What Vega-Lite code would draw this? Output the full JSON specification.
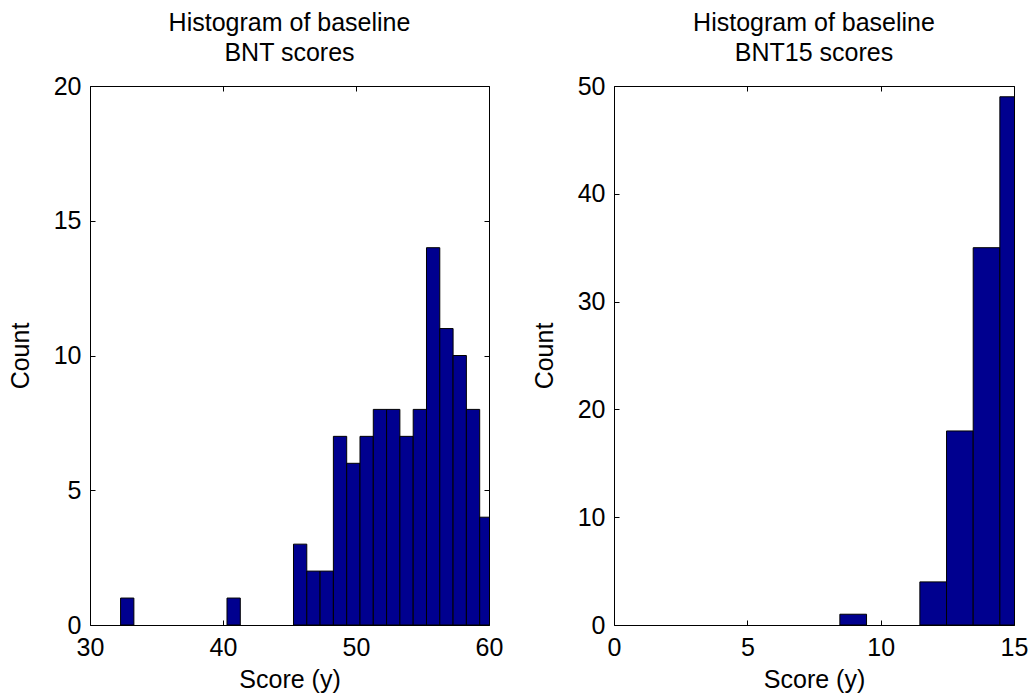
{
  "$schema": "https://vega.github.io/schema/vega-lite/v6.json",
  "background": "white",
  "padding": {"left": 7, "top": 10, "right": 5, "bottom": 0},
  "datasets": {
    "bnt": [
      {"start": 32.3, "end": 33.3, "count": 1},
      {"start": 40.3, "end": 41.3, "count": 1},
      {"start": 45.3, "end": 46.3, "count": 3},
      {"start": 46.3, "end": 47.3, "count": 2},
      {"start": 47.3, "end": 48.3, "count": 2},
      {"start": 48.3, "end": 49.3, "count": 7},
      {"start": 49.3, "end": 50.3, "count": 6},
      {"start": 50.3, "end": 51.3, "count": 7},
      {"start": 51.3, "end": 52.3, "count": 8},
      {"start": 52.3, "end": 53.3, "count": 8},
      {"start": 53.3, "end": 54.3, "count": 7},
      {"start": 54.3, "end": 55.3, "count": 8},
      {"start": 55.3, "end": 56.3, "count": 14},
      {"start": 56.3, "end": 57.3, "count": 11},
      {"start": 57.3, "end": 58.3, "count": 10},
      {"start": 58.3, "end": 59.3, "count": 8},
      {"start": 59.3, "end": 60.3, "count": 4}
    ],
    "bnt15": [
      {"start": 8.47, "end": 9.47, "count": 1},
      {"start": 11.47, "end": 12.47, "count": 4},
      {"start": 12.47, "end": 13.47, "count": 18},
      {"start": 13.47, "end": 14.47, "count": 35},
      {"start": 14.47, "end": 15.47, "count": 49}
    ]
  },
  "config": {
    "font": "Liberation Sans",
    "view": {"stroke": "black", "strokeWidth": 1},
    "axis": {
      "domain": false,
      "grid": false,
      "labelFlush": false,
      "tickColor": "black",
      "tickSize": -5,
      "labelColor": "black",
      "labelFontSize": 25,
      "titleColor": "black",
      "titleFontSize": 25,
      "titleFontWeight": "normal"
    },
    "axisX": {"labelPadding": 15, "titlePadding": 7},
    "axisY": {"labelPadding": 14, "titlePadding": 20},
    "title": {"fontSize": 25, "fontWeight": "normal", "color": "black", "lineHeight": 30, "offset": 8}
  },
  "spacing": 27,
  "hconcat": [
    {
      "width": 399,
      "height": 539,
      "title": {"text": ["Histogram of baseline", "BNT scores"]},
      "data": {"name": "bnt"},
      "layer": [
        {
          "mark": {"type": "bar", "color": "#00008F", "stroke": "black", "strokeWidth": 1, "clip": true},
          "encoding": {
            "x": {"field": "start", "type": "quantitative", "scale": {"domain": [30, 60], "nice": false, "zero": false, "padding": 0}, "axis": {"values": [30, 40, 50, 60], "title": "Score (y)"}},
            "x2": {"field": "end"},
            "y": {"field": "count", "type": "quantitative", "scale": {"domain": [0, 20], "nice": false, "padding": 0}, "axis": {"values": [0, 5, 10, 15, 20], "title": "Count"}},
            "y2": {"datum": 0}
          }
        },
        {
          "mark": {"type": "rule", "opacity": 0},
          "encoding": {
            "x": {"field": "start", "type": "quantitative", "axis": {"orient": "top", "values": [30, 40, 50, 60], "labels": false, "title": null}},
            "y": {"field": "count", "type": "quantitative", "axis": {"orient": "right", "values": [0, 5, 10, 15, 20], "labels": false, "title": null}}
          }
        }
      ],
      "resolve": {"axis": {"x": "independent", "y": "independent"}}
    },
    {
      "width": 400,
      "height": 539,
      "title": {"text": ["Histogram of baseline", "BNT15 scores"]},
      "data": {"name": "bnt15"},
      "layer": [
        {
          "mark": {"type": "bar", "color": "#00008F", "stroke": "black", "strokeWidth": 1, "clip": true},
          "encoding": {
            "x": {"field": "start", "type": "quantitative", "scale": {"domain": [0, 15], "nice": false, "zero": false, "padding": 0}, "axis": {"values": [0, 5, 10, 15], "title": "Score (y)"}},
            "x2": {"field": "end"},
            "y": {"field": "count", "type": "quantitative", "scale": {"domain": [0, 50], "nice": false, "padding": 0}, "axis": {"values": [0, 10, 20, 30, 40, 50], "title": "Count"}},
            "y2": {"datum": 0}
          }
        },
        {
          "mark": {"type": "rule", "opacity": 0},
          "encoding": {
            "x": {"field": "start", "type": "quantitative", "axis": {"orient": "top", "values": [0, 5, 10, 15], "labels": false, "title": null}},
            "y": {"field": "count", "type": "quantitative", "axis": {"orient": "right", "values": [0, 10, 20, 30, 40, 50], "labels": false, "title": null}}
          }
        }
      ],
      "resolve": {"axis": {"x": "independent", "y": "independent"}}
    }
  ]
}
